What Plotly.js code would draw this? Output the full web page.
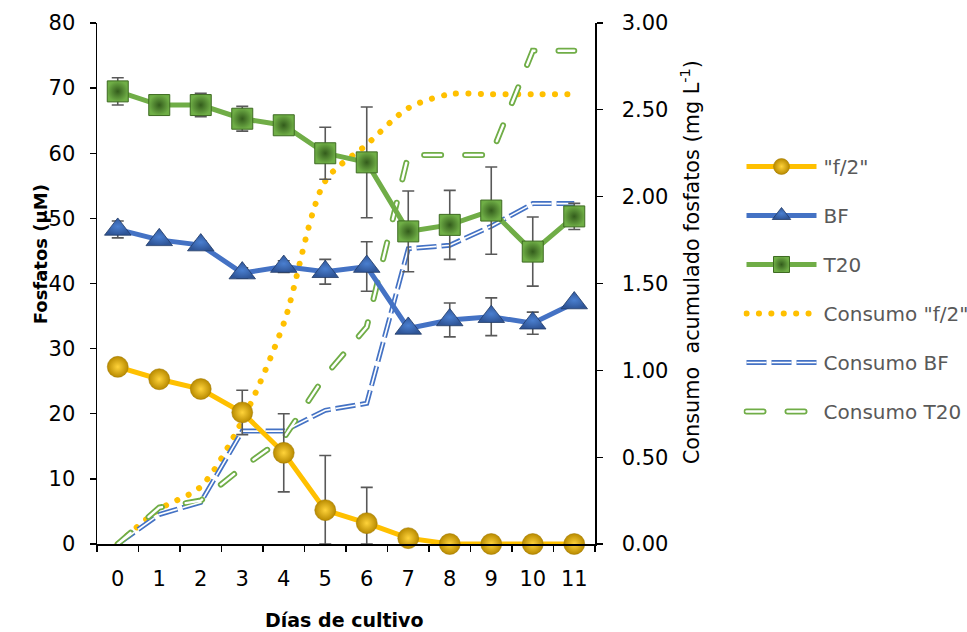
<!DOCTYPE html>
<html>
<head>
<meta charset="utf-8">
<script src="https://cdn.plot.ly/plotly-3.0.1.min.js"></script>
<style>html,body{margin:0;padding:0;background:#fff;}#chart{width:967px;height:632px;}</style>
</head>
<body>
<div id="chart"></div>
<script>
// ---- data ----
const dias = ["0","1","2","3","4","5","6","7","8","9","10","11"];

const f2 = [27.2, 25.3, 23.8, 20.2, 14.0, 5.2, 3.2, 0.9, 0, 0, 0, 0];
const f2Err = [0.3, 1.0, 0.4, 3.4, 6.0, 8.4, 5.5, 0.3, 0, 0, 0, 0];

const bf = [48.3, 46.7, 45.9, 41.6, 42.6, 41.8, 42.6, 33.1, 34.4, 34.9, 33.9, 37.0];
const bfErr = [1.3, 0.3, 0.6, 0.8, 0.9, 1.9, 3.8, 0.3, 2.6, 2.9, 1.7, 0.5];

const t20 = [69.5, 67.4, 67.4, 65.3, 64.3, 60.0, 58.6, 48.0, 49.0, 51.2, 44.9, 50.3];
const t20Err = [2.1, 0.3, 1.8, 1.9, 0.3, 4.0, 8.5, 6.2, 5.3, 6.7, 5.3, 2.0];

const consF2 = [0, 0.20, 0.33, 0.71, 1.27, 2.09, 2.30, 2.51, 2.59, 2.59, 2.59, 2.59];
const consBF = [0, 0.17, 0.24, 0.65, 0.65, 0.77, 0.81, 1.70, 1.72, 1.83, 1.96, 1.96];
const consT20 = [0, 0.21, 0.25, 0.44, 0.61, 0.97, 1.25, 2.24, 2.24, 2.24, 2.84, 2.84];

const names = ['"f/2"', 'BF', 'T20', 'Consumo "f/2"', 'Consumo BF', 'Consumo T20'];
const titleX = 'Días de cultivo';
const titleY = 'Fosfatos (µM)';
const titleY2 = 'Consumo  acumulado fosfatos (mg L<sup>-1</sup>)';

// ---- styles ----
const FONT = '"DejaVu Sans", Lato, sans-serif';
const errStyle = (vals, errs) => ({
  type: 'data', symmetric: false, array: errs,
  arrayminus: errs.map((e, i) => Math.min(e, vals[i])),
  color: '#595959', thickness: 1.6, width: 6
});

const traces = [
  {x: dias, y: f2, name: names[0], yaxis: 'y2', mode: 'lines+markers', legendgroup: 'a',
   line: {color: '#FFC000', width: 5},
   marker: {symbol: 'circle', size: 21, color: '#B88A00', line: {color: '#A07800', width: 0.5},
            gradient: {type: 'radial', color: '#FFD33A'}},
   error_y: errStyle(f2, f2Err), cliponaxis: false},
  {x: dias, y: bf, name: names[1], yaxis: 'y2', mode: 'lines+markers', legendgroup: 'b',
   line: {color: '#4472C4', width: 5},
   marker: {symbol: 'triangle-up', size: 23, color: '#2F5597', line: {color: '#203864', width: 0.8},
            gradient: {type: 'radial', color: '#4A7FD0'}},
   error_y: errStyle(bf, bfErr), cliponaxis: false},
  {x: dias, y: t20, name: names[2], yaxis: 'y2', mode: 'lines+markers', legendgroup: 'c',
   line: {color: '#70AD47', width: 5},
   marker: {symbol: 'square', size: 21, color: '#6FAE46', line: {color: '#3E6B22', width: 1},
            gradient: {type: 'radial', color: '#335C1C'}},
   error_y: errStyle(t20, t20Err), cliponaxis: false},
  {x: dias, y: consF2, name: names[3], yaxis: 'y', mode: 'lines', legendgroup: 'd',
   line: {color: '#FFC000', width: 6, dash: '5px,7px', shape: 'spline', smoothing: 0.8}},
  {x: dias, y: consBF, name: names[4], yaxis: 'y', mode: 'lines', legendgroup: 'e',
   line: {color: '#4472C4', width: 5, dash: '20px,5px'}},
  {x: dias, y: consT20, name: names[5], yaxis: 'y', mode: 'lines', legendgroup: 'f',
   line: {color: '#70AD47', width: 6, dash: '17px,24px'}},
  // inner white strokes to make double / hollow lines
  {x: dias, y: consBF, yaxis: 'y', mode: 'lines', showlegend: false, hoverinfo: 'skip', legendgroup: 'e',
   line: {color: '#FFFFFF', width: 1.6, dash: '20px,5px'}},
  {x: dias, y: consT20, yaxis: 'y', mode: 'lines', showlegend: false, hoverinfo: 'skip', legendgroup: 'f',
   line: {color: '#FFFFFF', width: 2.4, dash: '17px,24px'}}
];

const axisCommon = {
  ticks: 'outside', ticklen: 6, tickwidth: 1.3, tickcolor: '#000',
  showline: true, linecolor: '#000', linewidth: 1.5, showgrid: false, zeroline: false
};

const layout = {
  width: 967, height: 632,
  margin: {l: 97, r: 372, t: 23, b: 88},
  paper_bgcolor: '#ffffff', plot_bgcolor: 'rgba(0,0,0,0)',
  font: {family: FONT, color: '#000000', size: 20},
  showlegend: true,
  legend: {x: 1.20, y: 0.762, xanchor: 'left', yanchor: 'top', itemwidth: 70,
           font: {family: FONT, size: 20, color: '#595959'}, tracegroupgap: 20,
           bgcolor: 'rgba(0,0,0,0)'},
  xaxis: Object.assign({type: 'category', range: [-0.5, 11.5], tickson: 'boundaries',
          tickfont: {family: FONT, size: 21, color: '#000'}, ticklabelstandoff: 15}, axisCommon),
  yaxis: Object.assign({range: [0, 3], dtick: 0.5, tick0: 0, tickformat: '.2f', side: 'right',
          tickfont: {family: FONT, size: 21, color: '#000'}, ticklabelstandoff: 15}, axisCommon),
  yaxis2: Object.assign({range: [0, 80], dtick: 10, tick0: 0, overlaying: 'y', side: 'left', anchor: 'x',
           tickfont: {family: FONT, size: 21, color: '#000'}, ticklabelstandoff: 10}, axisCommon),
  annotations: [
    {text: '<b>' + titleX + '</b>', xref: 'paper', yref: 'paper', x: 0.496, y: -0.146,
     xanchor: 'center', yanchor: 'middle', showarrow: false, font: {family: FONT, size: 19, color: '#000'}},
    {text: '<b>' + titleY + '</b>', xref: 'paper', yref: 'paper', x: -0.1145, y: 0.556,
     xanchor: 'center', yanchor: 'middle', textangle: -90, showarrow: false, font: {family: FONT, size: 18, color: '#000'}},
    {text: titleY2, xref: 'paper', yref: 'paper', x: 1.191, y: 0.541,
     xanchor: 'center', yanchor: 'middle', textangle: -90, showarrow: false, font: {family: FONT, size: 20.8, color: '#000'}}
  ]
};

Plotly.newPlot('chart', traces, layout, {staticPlot: true, displayModeBar: false}).then(function (gd) {
  // round-dot / capsule styling of the dashed consumption lines
  gd.querySelectorAll('path').forEach(function (p) {
    const da = (p.style.strokeDasharray || '').replace(/\s/g, '');
    if (da === '5px,7px') { p.style.strokeDasharray = '0.1px,12.3px'; p.style.strokeLinecap = 'round'; }
    if (da === '17px,24px') { p.style.strokeLinecap = 'round'; }
  });
  // widen legend samples like the reference
  const items = gd.querySelectorAll('.legend .traces');
  items.forEach(function (it, i) {
    const line = it.querySelector('.legendlines path');
    if (line) line.setAttribute('d', 'M3,0h70');
    it.querySelectorAll('.legendpoints path').forEach(function (m) { m.setAttribute('transform', 'translate(38,0)'); });
    if (line && (i === 4 || i === 5)) {
      const inner = line.cloneNode(true);
      inner.style.stroke = '#ffffff';
      inner.style.strokeWidth = (i === 4 ? 1.6 : 2.4) + 'px';
      line.parentNode.appendChild(inner);
    }
  });
  // place the legend box at the reference position without affecting margins
  const lg = gd.querySelector('g.legend');
  if (lg) {
    const m = /translate\(\s*([-\d.]+)[ ,]+([-\d.]+)\s*\)/.exec(lg.getAttribute('transform') || '');
    if (m) lg.setAttribute('transform', 'translate(743.5,' + m[2] + ')');
  }
});
</script>
</body>
</html>
